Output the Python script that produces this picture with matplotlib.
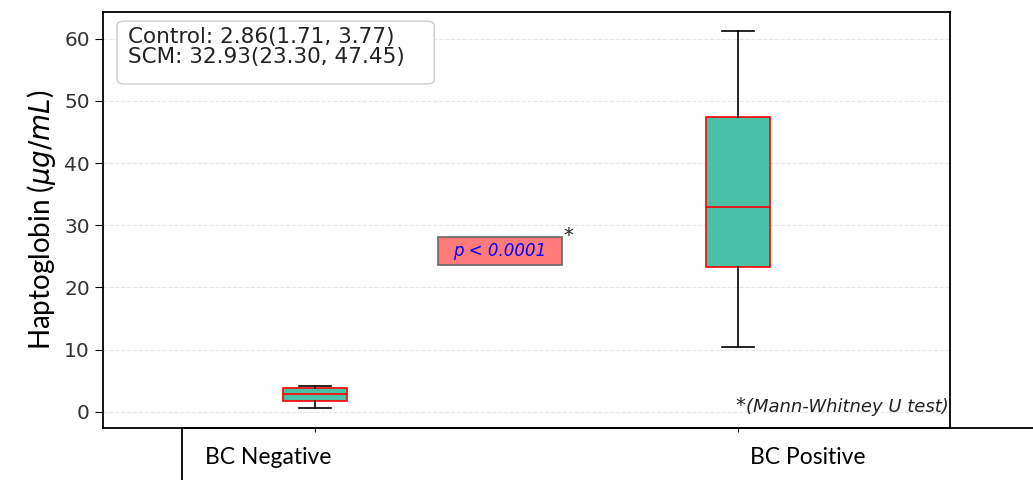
import matplotlib.pyplot as plt
from matplotlib.lines import Line2D
from matplotlib.patches import FancyBboxPatch, Rectangle

plt.rcParams['font.family'] = ['DejaVu Sans']

# данные боксплотов (медиана, квартили, усы)
groups = ["BC Negative", "BC Positive"]
medians = [2.86, 32.93]
q1s = [1.71, 23.30]
q3s = [3.77, 47.45]
whisk_low = [0.65, 10.5]
whisk_high = [4.2, 61.3]
legend_lines = ["Control: 2.86(1.71, 3.77)", "SCM: 32.93(23.30, 47.45)"]
p_text = "p < 0.0001"
test_note = "(Mann-Whitney U test)"

W, H = 1033, 480
fig = plt.figure(figsize=(W / 100, H / 100), dpi=100)
ax = fig.add_axes([103 / W, 1 - 428 / H, (950 - 103) / W, (428 - 12) / H])

stats = []
for i in range(len(groups)):
    stats.append({"med": medians[i], "q1": q1s[i], "q3": q3s[i],
                  "whislo": whisk_low[i], "whishi": whisk_high[i], "fliers": []})

ax.bxp(stats, positions=[1, 2], widths=0.15, patch_artist=True, showfliers=False,
       boxprops=dict(facecolor='#48c1a6', edgecolor='red', linewidth=1.2),
       medianprops=dict(color='red', linewidth=1.2),
       whiskerprops=dict(color='black', linewidth=1.2),
       capprops=dict(color='black', linewidth=1.2))

ax.set_xlim(0.5, 2.5)
ax.set_ylim(-2.6, 64.3)
ax.set_yticks([0, 10, 20, 30, 40, 50, 60])
ax.set_xticks([1, 2])
ax.set_xticklabels(["", ""])
ax.tick_params(axis='y', labelsize=14.5, labelcolor='#333333', length=6)
ax.tick_params(axis='x', length=3)
ax.grid(axis='y', linestyle='--', color='#dddddd', alpha=0.7)
ax.set_axisbelow(True)
for s in ax.spines.values():
    s.set_linewidth(1.3)

ax.set_ylabel(r"Haptoglobin ($\mu g/mL$)", fontsize=20, family='Lato', labelpad=4)

# текстовый блок со сводкой
ax.add_patch(FancyBboxPatch((0.0165, 0.827), 0.3745, 0.151, boxstyle='round,pad=0,rounding_size=0.01',
                            transform=ax.transAxes, facecolor='white', edgecolor='#cccccc',
                            linewidth=1, zorder=4))
ax.text(0.0295, 0.963, "\n".join(legend_lines), transform=ax.transAxes, fontsize=15.5,
        va='top', ha='left', color='#222222', linespacing=0.98, zorder=5)

# подпись p-value
ax.add_patch(Rectangle((1.291, 23.6), 0.293, 4.5, facecolor='#ff7b7b', edgecolor='#666666',
                       linewidth=1.2, zorder=4))
ax.text(1.4375, 25.85, p_text, fontsize=12, style='italic', color='blue', ha='center', va='center',
        zorder=5)
ax.text(1.598, 28.4, "*", fontsize=14, ha='center', va='center', color='#222222')

note = ax.text(0.998, 0.03, test_note, transform=ax.transAxes, fontsize=13, style='italic',
               ha='right', va='bottom', color='#222222')
ax.annotate("*", xy=(0, 0.05), xycoords=note, fontsize=14, ha='right', va='bottom',
            color='#222222')

# нижняя "таблица" с подписями групп
fig.add_artist(Line2D([182 / W, 1], [1 - 428 / H, 1 - 428 / H], color='black', linewidth=1.3))
fig.add_artist(Line2D([182 / W, 182 / W], [0, 1 - 428 / H], color='black', linewidth=1.3))
fig.text(205 / W, 1 - 458 / H, groups[0], fontsize=16.5, family='Lato', va='center', ha='left')
fig.text(750 / W, 1 - 458 / H, groups[1], fontsize=16.5, family='Lato', va='center', ha='left')

fig.savefig("out.png", dpi=100)
